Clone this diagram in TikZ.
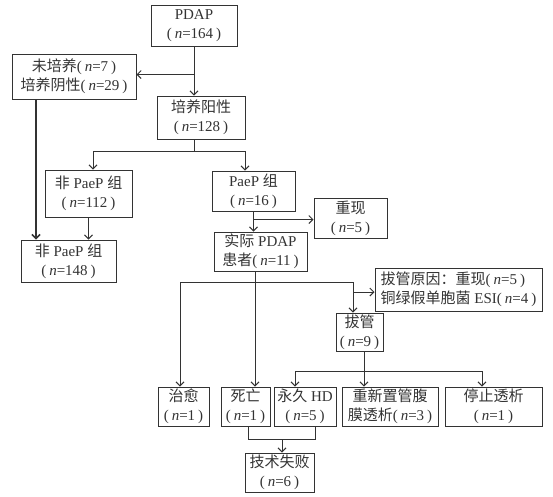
\documentclass[tikz,border=0pt]{standalone}
\usepackage{fontspec}
\setmainfont{Liberation Serif}
\newfontfamily\cjk{Noto Sans CJK SC}
\usetikzlibrary{arrows.meta,positioning}
\newcommand{\nval}[1]{(\hspace{3pt}\textit{n}=#1\hspace{3pt})}

\begin{document}
\begin{tikzpicture}
            [x=1pt, y=-1pt, font=\fontsize{15}{19}\selectfont,
             box/.style={draw=black!80, line width=1pt, rectangle, align=center, inner sep=0pt, text=black!80},
             arr/.style={draw=black!80, line width=1pt, -{Straight Barb[length=4pt,width=8pt]}},
             link/.style={draw=black!80, line width=1pt}]
            \useasboundingbox (0,0) rectangle (553,496);
            \node[box, minimum width=86, minimum height=41] (pdap) at (194,25.5) {PDAP\\\nval{164}};
            \node[box, minimum width=124, minimum height=45] (nocult) at (74,76.5) {{\cjk 未培养}\nval{7}\\{\cjk 培养阴性}\nval{29}};
            \node[box, minimum width=88, minimum height=43] (cultpos) at (201,117.5) {{\cjk 培养阳性}\\\nval{128}};
            \node[box, minimum width=87, minimum height=47] (nonpaepA) at (88.5,193.5) {{\cjk 非} PaeP {\cjk 组}\\\nval{112}};
            \node[box, minimum width=83, minimum height=40] (paep) at (253.5,191) {PaeP {\cjk 组}\\\nval{16}};
            \node[box, minimum width=73, minimum height=40] (recur) at (350.5,218) {{\cjk 重现}\\\nval{5}};
            \node[box, minimum width=95, minimum height=42] (nonpaepB) at (68.5,261) {{\cjk 非} PaeP {\cjk 组}\\\nval{148}};
            \node[box, minimum width=93, minimum height=39] (actual) at (260.5,251.5) {{\cjk 实际} PDAP\\{\cjk 患者}\nval{11}};
            \node[box, minimum width=167, minimum height=43, align=left] (reason) at (458.5,289.5) {{\cjk 拔管原因：重现}\nval{5}\\{\cjk 铜绿假单胞菌} ESI\nval{4}};
            \node[box, minimum width=47, minimum height=38] (remove) at (359.5,332) {{\cjk 拔管}\\\nval{9}};
            \node[box, minimum width=51, minimum height=39] (cured) at (183.5,406.5) {{\cjk 治愈}\\\nval{1}};
            \node[box, minimum width=49, minimum height=39] (death) at (245.5,406.5) {{\cjk 死亡}\\\nval{1}};
            \node[box, minimum width=62, minimum height=39] (hd) at (305,406.5) {{\cjk 永久} HD\\\nval{5}};
            \node[box, minimum width=96, minimum height=39] (repd) at (390,406.5) {{\cjk 重新置管腹}\\{\cjk 膜透析}\nval{3}};
            \node[box, minimum width=97, minimum height=39] (stop) at (493.5,406.5) {{\cjk 停止透析}\\\nval{1}};
            \node[box, minimum width=69, minimum height=39] (fail) at (279.5,472.5) {{\cjk 技术失败}\\\nval{6}};

            % junctions
            \coordinate (j1) at ([yshift=-28pt]pdap.south);
            \coordinate (j2L) at (93,151);
            \coordinate (j2R) at (245,151);
            \coordinate (j3) at ([yshift=-8pt]paep.south);
            \coordinate (j4L) at (180,282);
            \coordinate (j4R) at (353,282);
            \coordinate (j5) at (353,292);
            \coordinate (j6L) at (295,371);
            \coordinate (j6R) at (482,371);
            \coordinate (j7) at (282,439);

            \draw[arr] (pdap.south) -- (pdap.south |- cultpos.north);
            \draw[arr] (j1) -- (j1 -| nocult.east);
            \draw[link] ([xshift=-7pt]cultpos.south) -- ([xshift=-7pt]cultpos.south |- j2L);
            \draw[link] (j2L) -- (j2R);
            \draw[arr] (j2L) -- (j2L |- nonpaepA.north);
            \draw[arr] (j2R) -- (j2R |- paep.north);
            \draw[arr, line width=1.5pt] ([xshift=-38pt]nocult.south) -- ([xshift=-38pt]nocult.south |- nonpaepB.north);
            \draw[arr] (nonpaepA.south) -- (nonpaepA.south |- nonpaepB.north);
            \draw[arr] (paep.south) -- (paep.south |- actual.north);
            \draw[arr] (j3) -- (j3 -| recur.west);
            \draw[arr] ([xshift=-5.5pt]actual.south) -- ([xshift=-5.5pt]actual.south |- death.north);
            \draw[link] (j4L) -- (j4R);
            \draw[arr] (j4L) -- (j4L |- cured.north);
            \draw[arr] (j4R) -- (j4R |- remove.north);
            \draw[arr] (j5) -- (j5 -| reason.west);
            \draw[link] ([xshift=4.5pt]remove.south) -- ([xshift=4.5pt]remove.south |- j6L);
            \draw[link] (j6L) -- (j6R);
            \draw[arr] (j6L) -- (j6L |- hd.north);
            \draw[arr] ([xshift=4.5pt]remove.south |- j6L) -- ([xshift=4.5pt]remove.south |- repd.north);
            \draw[arr] (j6R) -- (j6R |- stop.north);
            \draw[link] ([xshift=2.5pt]death.south) |- (j7);
            \draw[link] ([xshift=10pt]hd.south) |- (j7);
            \draw[arr] (j7) -- (j7 |- fail.north);
        \end{tikzpicture}
\end{document}
